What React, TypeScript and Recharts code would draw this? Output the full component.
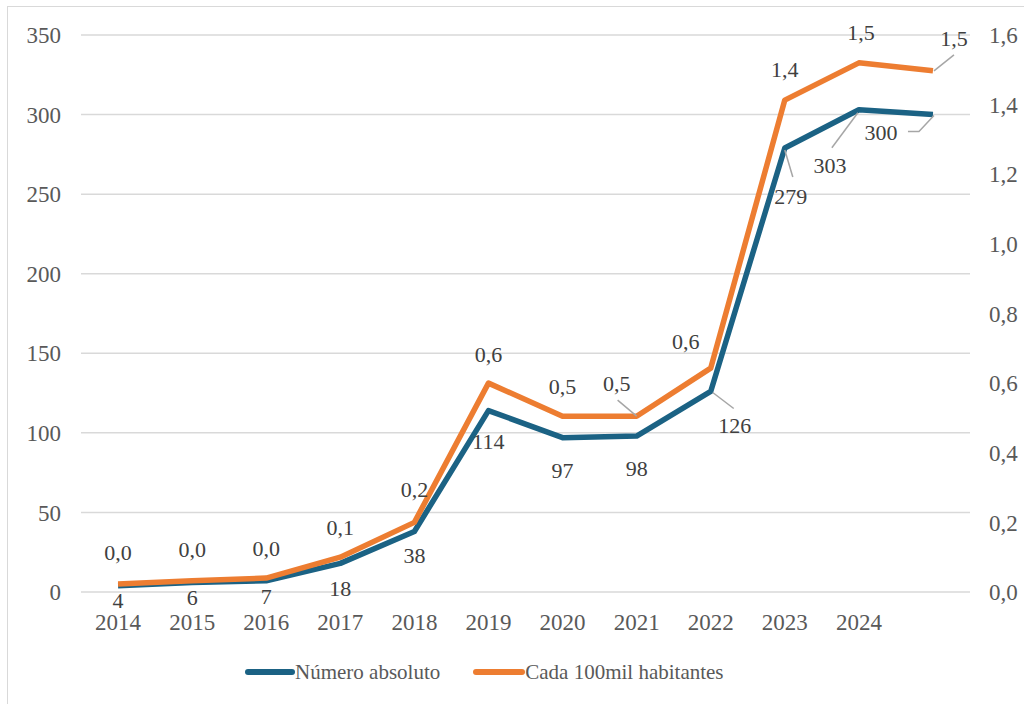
import React from 'react'
import { ComposedChart, Line, XAxis, YAxis, CartesianGrid, Legend, LabelList } from 'recharts'

const years = ['2014', '2015', '2016', '2017', '2018', '2019', '2020', '2021', '2022', '2023', '2024', '']
const absoluto = [4, 6, 7, 18, 38, 114, 97, 98, 126, 279, 303, 300]
const taxa = [0.023, 0.032, 0.04, 0.1, 0.2, 0.6, 0.505, 0.505, 0.643, 1.413, 1.52, 1.497]
const leftTicks = [0, 50, 100, 150, 200, 250, 300, 350]
const rightTicks = [0, 0.2, 0.4, 0.6, 0.8, 1.0, 1.2, 1.4, 1.6]

// where each data label sits relative to its point, plus leader lines (Excel callouts)
const absLabelPos = [[0, 15], [0, 15], [0, 15], [0, 25], [0, 24], [0, 31], [0, 33], [0, 32], [24, 34], [6, 48], [-29, 56], [-52, 18]]
const absLeaders: Record<number, number[][]> = {
  8: [[2, 1], [23, 17]],
  9: [[0, 2], [8, 29]],
  10: [[-1, 3], [-27, 38]],
  11: [[1, 1], [-14, 17], [-25, 17]],
}
const taxaLabelPos = [[0, -32], [0, -32], [0, -30], [0, -30], [0, -33], [0, -29], [0, -30], [-20, -33], [-25, -27], [0, -31], [2, -31], [21, -33]]
const taxaLeaders: Record<number, number[][]> = {
  7: [[0, 0], [-19, -16]],
  11: [[1, 0], [21, -16]],
}

const BLUE = '#1B6284'
const ORANGE = '#ED7D31'
const FONT = '"Liberation Serif", "Times New Roman", serif'

const data = years.map((year, i) => ({ year, absoluto: absoluto[i], taxa: taxa[i] }))

const fmtComma = (v: number) => v.toFixed(1).replace('.', ',')

function makeLabel(pos: number[][], leaders: Record<number, number[][]>, fmt: (v: number) => string) {
  return (props: any) => {
    const x = props.x ?? props.viewBox?.x
    const y = props.y ?? props.viewBox?.y
    const i = props.index
    if (x == null || y == null || i == null) return null
    const [dx, dy] = pos[i]
    const leader = leaders[i]
    return (
      <g>
        {leader && (
          <polyline
            points={leader.map(([lx, ly]) => `${x + lx},${y + ly}`).join(' ')}
            fill="none" stroke="#A6A6A6" strokeWidth={1.5}
          />
        )}
        <text x={x + dx} y={y + dy} dy="0.35em" textAnchor="middle" fill="#404040" fontSize={22} fontFamily={FONT}>
          {fmt(props.value)}
        </text>
      </g>
    )
  }
}

const LegendContent = () => (
  <div style={{ display: 'flex', alignItems: 'center', height: 50, fontFamily: FONT, fontSize: 21, color: '#595959', whiteSpace: 'nowrap' }}>
    <svg width={50} height={10}><line x1={3} y1={5} x2={47} y2={5} stroke={BLUE} strokeWidth={6} strokeLinecap="round" /></svg>
    <span style={{ marginRight: 33 }}>Número absoluto</span>
    <svg width={52} height={10}><line x1={3} y1={5} x2={49} y2={5} stroke={ORANGE} strokeWidth={6} strokeLinecap="round" /></svg>
    <span>Cada 100mil habitantes</span>
  </div>
)

export default function App() {
  const tick = { fill: '#595959', fontSize: 23, fontFamily: FONT }
  return (
    <div style={{ position: 'absolute', left: 0, top: 0, width: 1024, height: 704, overflow: 'hidden', background: '#fff' }}>
      <div style={{ position: 'absolute', left: 7, top: 6, width: 1100, height: 800, border: '1.5px solid #D9D9D9' }} />
      <div style={{ position: 'absolute', left: 0, top: 0 }}>
        <ComposedChart width={1024} height={704} data={data} margin={{ top: 35, right: 0, bottom: 7, left: 0 }}>
          <CartesianGrid vertical={false} stroke="#D9D9D9" strokeWidth={1.5} yAxisId="left" />
          <XAxis dataKey="year" scale="band" interval={0} tickLine={false} axisLine={false} tickSize={0} tickMargin={22} height={55} tick={tick} />
          <YAxis yAxisId="left" domain={[0, 350]} ticks={leftTicks} width={81} tickLine={false} axisLine={false} tickSize={0} tickMargin={20} tick={tick} />
          <YAxis yAxisId="right" orientation="right" domain={[0, 1.6]} ticks={rightTicks} width={54} tickLine={false} axisLine={false} tickSize={0} tickMargin={19} tick={tick} tickFormatter={fmtComma} />
          <Legend verticalAlign="bottom" content={<LegendContent />} wrapperStyle={{ left: 245, width: 560, bottom: 7 }} />
          <Line yAxisId="left" dataKey="absoluto" name="Número absoluto" stroke={BLUE} strokeWidth={5.5} strokeLinejoin="round" dot={false} activeDot={false} isAnimationActive={false}>
            <LabelList dataKey="absoluto" content={makeLabel(absLabelPos, absLeaders, (v) => String(v))} />
          </Line>
          <Line yAxisId="right" dataKey="taxa" name="Cada 100mil habitantes" stroke={ORANGE} strokeWidth={5.5} strokeLinejoin="round" dot={false} activeDot={false} isAnimationActive={false}>
            <LabelList dataKey="taxa" content={makeLabel(taxaLabelPos, taxaLeaders, fmtComma)} />
          </Line>
        </ComposedChart>
      </div>
    </div>
  )
}
